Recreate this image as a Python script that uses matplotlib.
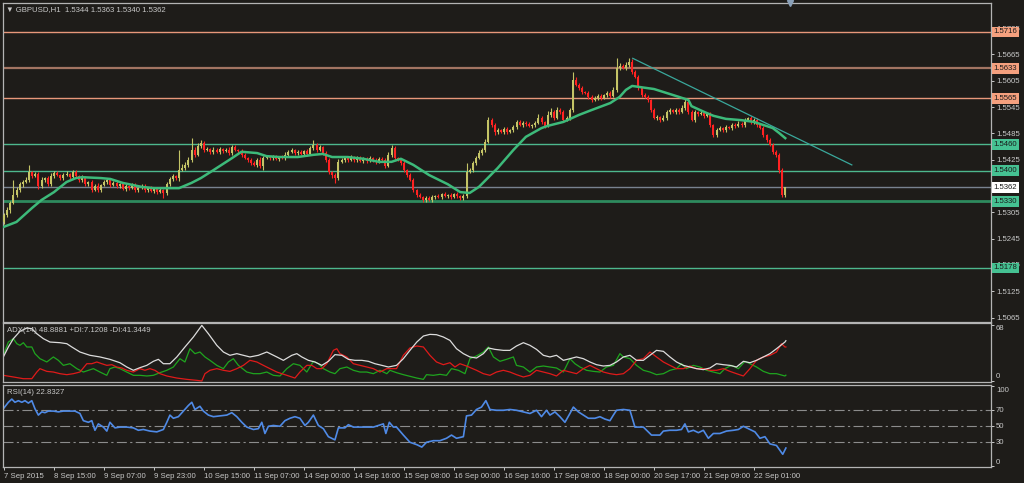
import numpy as np
import matplotlib
matplotlib.use("Agg")
import matplotlib.pyplot as plt
import matplotlib.transforms as mtransforms

# GBPUSD H1, 7 - 22 Sep 2015
# closes in pips above 1.5000, one per hourly bar
closes_pips = [
    299, 310, 326, 344, 356, 369, 374, 379, 397, 388, 392, 365, 379, 383, 369, 388, 395, 390, 383, 390,
    392, 385, 397, 388, 379, 383, 369, 374, 356, 365, 356, 367, 374, 379, 367, 372, 365, 369, 358, 365,
    360, 367, 356, 360, 365, 356, 360, 354, 358, 351, 356, 349, 369, 381, 388, 383, 401, 406, 413, 424,
    447, 436, 456, 463, 447, 449, 443, 447, 443, 449, 445, 447, 440, 454, 447, 445, 436, 429, 424, 417,
    413, 424, 411, 429, 431, 429, 431, 427, 431, 429, 436, 443, 447, 440, 443, 438, 445, 438, 452, 458,
    447, 454, 440, 424, 397, 390, 383, 420, 424, 429, 424, 431, 424, 429, 422, 427, 422, 429, 424, 420,
    427, 424, 411, 436, 452, 429, 424, 417, 401, 390, 379, 356, 344, 340, 333, 338, 333, 340, 342, 340,
    347, 342, 344, 340, 347, 342, 338, 342, 397, 401, 417, 429, 440, 447, 465, 515, 504, 488, 493, 488,
    495, 488, 493, 499, 511, 504, 509, 506, 502, 504, 509, 520, 511, 502, 527, 534, 520, 538, 534, 515,
    520, 538, 607, 595, 588, 579, 577, 568, 561, 566, 570, 566, 572, 577, 570, 584, 634, 638, 634, 641,
    648, 625, 613, 588, 572, 568, 561, 538, 520, 522, 515, 520, 534, 538, 534, 538, 534, 543, 556, 534,
    515, 534, 529, 531, 525, 529, 504, 481, 493, 497, 493, 499, 497, 504, 502, 506, 504, 515, 520, 511,
    515, 504, 497, 481, 470, 458, 443, 436, 401, 344, 362]
first_open_pips = 283

# wick lengths in pips beyond the body
wick_up = [
    4, 6, 5, 35, 6, 5, 4, 6, 16, 3, 5, 4, 6, 3, 5, 7, 4, 5, 3, 4,
    6, 3, 5, 4, 3, 6, 4, 3, 5, 4, 6, 3, 5, 4, 3, 5, 4, 3, 6, 4,
    3, 5, 4, 3, 5, 4, 3, 4, 5, 3, 4, 3, 6, 5, 4, 3, 45, 8, 6, 7,
    27, 6, 8, 7, 4, 5, 3, 6, 4, 5, 3, 4, 6, 5, 4, 3, 4, 5, 3, 4,
    5, 4, 6, 5, 4, 3, 5, 4, 3, 4, 6, 5, 4, 3, 5, 4, 3, 5, 4, 11,
    5, 4, 3, 4, 5, 3, 4, 6, 4, 3, 5, 4, 3, 4, 5, 3, 4, 5, 3, 4,
    5, 3, 4, 6, 7, 5, 3, 4, 5, 3, 4, 5, 3, 4, 3, 4, 3, 5, 3, 4,
    3, 4, 3, 5, 3, 4, 3, 4, 20, 6, 5, 4, 6, 5, 7, 7, 6, 4, 5, 3,
    5, 4, 3, 6, 5, 4, 3, 5, 4, 3, 5, 8, 4, 3, 9, 9, 5, 6, 4, 5,
    4, 5, 18, 6, 5, 4, 3, 5, 4, 3, 5, 4, 3, 5, 4, 6, 23, 8, 6, 7,
    9, 6, 5, 4, 3, 5, 4, 3, 5, 4, 3, 6, 5, 4, 3, 5, 4, 6, 9, 4,
    5, 4, 3, 5, 4, 3, 4, 3, 4, 5, 3, 4, 3, 5, 4, 6, 4, 5, 3, 4,
    5, 4, 3, 4, 3, 5, 4, 3, 5, 4, 1]
wick_dn = [
    5, 4, 6, 3, 5, 4, 6, 3, 4, 5, 3, 6, 4, 5, 3, 4, 5, 3, 4, 5,
    3, 4, 5, 3, 4, 6, 3, 5, 4, 3, 5, 4, 3, 5, 4, 3, 4, 5, 3, 4,
    5, 3, 4, 5, 3, 4, 5, 3, 4, 5, 3, 11, 4, 3, 5, 4, 6, 3, 5, 4,
    5, 4, 3, 5, 4, 3, 5, 4, 3, 5, 4, 3, 5, 4, 3, 5, 4, 3, 5, 4,
    3, 5, 4, 9, 3, 4, 5, 3, 4, 3, 5, 4, 3, 5, 4, 3, 5, 4, 3, 4,
    5, 3, 4, 5, 4, 6, 11, 4, 3, 5, 4, 3, 5, 4, 3, 4, 5, 3, 4, 5,
    3, 4, 5, 3, 4, 5, 3, 4, 5, 4, 3, 5, 4, 3, 5, 4, 3, 4, 5, 3,
    4, 3, 5, 4, 3, 4, 5, 6, 4, 3, 5, 4, 3, 5, 4, 3, 5, 6, 4, 3,
    5, 4, 3, 4, 5, 3, 4, 5, 3, 4, 5, 3, 4, 5, 3, 4, 5, 3, 4, 5,
    3, 4, 5, 3, 4, 5, 3, 4, 5, 3, 4, 5, 3, 4, 5, 3, 4, 5, 3, 4,
    5, 4, 3, 5, 4, 3, 4, 5, 3, 4, 5, 3, 4, 5, 3, 4, 5, 3, 4, 5,
    3, 4, 5, 3, 4, 3, 5, 5, 4, 3, 5, 4, 3, 4, 5, 3, 4, 5, 3, 4,
    5, 4, 3, 5, 4, 3, 4, 5, 6, 4, 4]

date_ticks = list(range(0, 241, 16))
date_labels = ['7 Sep 2015', '8 Sep 15:00', '9 Sep 07:00', '9 Sep 23:00', '10 Sep 15:00',
               '11 Sep 07:00', '14 Sep 00:00', '14 Sep 16:00', '15 Sep 08:00', '16 Sep 00:00',
               '16 Sep 16:00', '17 Sep 08:00', '18 Sep 00:00', '20 Sep 17:00', '21 Sep 09:00',
               '22 Sep 01:00']

# moving average (bar, price)
ma_pts = [(0, 1.5272), (4, 1.5283), (9, 1.5315), (12, 1.5333), (16, 1.5351), (20, 1.5374),
          (23, 1.5383), (25, 1.5385), (31, 1.5383), (34, 1.5381), (38, 1.5372), (44, 1.5363),
          (48, 1.5360), (52, 1.5360), (56, 1.5360), (60, 1.5372), (63, 1.5383), (67, 1.5401),
          (72, 1.5424), (76, 1.5443), (81, 1.5440), (84, 1.5433), (88, 1.5431), (94, 1.5431),
          (99, 1.5436), (102, 1.5438), (105, 1.5431), (110, 1.5431), (115, 1.5427), (120, 1.5420),
          (124, 1.5420), (127, 1.5427), (131, 1.5413), (136, 1.5390), (142, 1.5369), (146, 1.5351),
          (149, 1.5349), (152, 1.5363), (158, 1.5406), (163, 1.5447), (167, 1.5477), (172, 1.5497),
          (174, 1.5502), (179, 1.5511), (184, 1.5527), (188, 1.5538), (194, 1.5554), (197, 1.5568),
          (199, 1.5584), (201, 1.5593), (203, 1.5591), (208, 1.5586), (212, 1.5577), (216, 1.5568),
          (219, 1.5561), (220, 1.5547), (224, 1.5534), (227, 1.5525), (231, 1.5518), (236, 1.5515),
          (240, 1.5511), (243, 1.5504), (246, 1.5497), (248, 1.5486), (250, 1.5474)]

trend_pts = [(201.2, 1.5656), (271.3, 1.5413)]

levels = [1.5716, 1.5633, 1.5565, 1.5460, 1.5400, 1.5362, 1.5330, 1.5178]
level_line_colors = ['#e8977a', '#a27462', '#e8977a', '#4db88e', '#4db88e', '#78828f', '#2e8a5e', '#4db88e']
level_box_colors = ['#f5a07e', '#f5a07e', '#f5a07e', '#45c192', '#45c192', '#ffffff', '#45c192', '#45c192']
level_widths = [1.0, 1.6, 1.0, 1.0, 1.0, 1.0, 2.0, 1.0]

price_ticks = [1.5065, 1.5125, 1.5185, 1.5245, 1.5305, 1.5365, 1.5425, 1.5485, 1.5545,
               1.5605, 1.5665, 1.5725]
hidden_ticks = [1.5365]   # covered by the bid label in the chart

adx_pts = [(-0.2, 29.2), (1.4, 41.3), (3.0, 51.4), (5.1, 60.3), (7.3, 64.3), (8.9, 63.5), (10.5, 57.4),
           (12.6, 51.4), (14.7, 47.3), (17.9, 46.5), (20.1, 45.3), (21.7, 41.3), (24.3, 35.2),
           (27.5, 31.2), (30.7, 29.2), (33.9, 26.3), (37.1, 22.2), (39.3, 17.0), (41.4, 13.0),
           (43.5, 16.2), (45.7, 19.0), (47.8, 23.9), (49.4, 26.3), (51.0, 21.0), (53.1, 21.0),
           (55.3, 29.2), (57.9, 41.3), (60.6, 53.4), (63.3, 67.5), (65.4, 57.4), (68.1, 43.3),
           (70.2, 35.2), (72.3, 31.2), (74.5, 33.2), (76.6, 31.2), (78.7, 29.2), (81.4, 31.2),
           (84.1, 35.2), (87.3, 29.2), (89.4, 25.1), (92.1, 31.2), (93.7, 33.2), (95.3, 29.2),
           (97.4, 25.1), (99.5, 23.1), (101.7, 19.0), (103.8, 23.9), (105.9, 32.0), (108.1, 31.2),
           (110.2, 26.3), (112.3, 25.1), (114.5, 25.1), (116.6, 23.9), (118.7, 21.0), (120.9, 19.0),
           (123.0, 17.0), (125.6, 19.0), (127.8, 27.1), (129.9, 37.2), (132.1, 47.3), (134.2, 54.6),
           (136.3, 56.6), (138.4, 56.2), (140.6, 53.4), (142.7, 49.3), (144.8, 39.2), (147.0, 33.2),
           (149.1, 29.2), (151.2, 27.9), (153.4, 33.2), (155.0, 40.1), (157.1, 38.4), (159.8, 37.2),
           (161.9, 37.2), (164.0, 42.5), (166.2, 46.5), (168.3, 43.3), (170.4, 38.4), (172.6, 31.2),
           (174.7, 29.2), (176.8, 31.2), (179.0, 25.1), (181.1, 27.1), (183.2, 29.2), (185.4, 27.1),
           (187.5, 23.1), (189.6, 19.8), (191.8, 18.2), (193.9, 19.0), (196.0, 23.1), (198.2, 29.2),
           (200.3, 31.2), (202.4, 25.1), (204.6, 25.1), (206.7, 31.2), (208.8, 37.2), (211.0, 36.0),
           (213.1, 29.2), (215.2, 23.1), (217.4, 19.0), (219.5, 17.0), (221.6, 15.0), (223.8, 13.8),
           (225.9, 15.8), (228.0, 21.0), (230.2, 19.8), (232.3, 19.0), (234.4, 17.0), (236.6, 23.9),
           (238.7, 22.2), (240.8, 25.1), (243.0, 29.2), (245.1, 33.2), (247.2, 39.2), (249.9, 47.3),
           (250.2, 48.9)]

plus_di_pts = [(-0.2, 31.2), (1.4, 47.3), (3.0, 51.4), (4.1, 45.3), (5.1, 43.3), (6.2, 46.5), (7.3, 41.3),
               (8.9, 41.3), (9.9, 33.2), (11.5, 27.1), (13.7, 23.1), (15.8, 29.2), (17.4, 25.1),
               (19.0, 19.0), (21.1, 21.0), (23.3, 15.0), (25.4, 10.9), (27.0, 13.0), (28.6, 15.0),
               (30.7, 10.9), (32.9, 6.9), (33.9, 15.0), (35.5, 17.0), (37.1, 15.0), (39.3, 10.9),
               (41.4, 6.9), (43.5, 6.9), (45.7, 6.1), (47.8, 6.9), (49.9, 10.1), (52.1, 13.0),
               (54.2, 17.0), (56.3, 27.1), (57.9, 23.1), (59.5, 39.2), (61.1, 33.2), (62.7, 35.2),
               (64.3, 29.2), (65.9, 25.1), (68.1, 19.0), (70.2, 15.0), (71.8, 23.1), (73.4, 27.1),
               (75.0, 19.0), (77.7, 10.9), (79.8, 8.9), (81.9, 8.9), (84.1, 10.9), (86.2, 6.9),
               (88.3, 6.1), (90.5, 15.0), (92.6, 21.0), (94.7, 19.0), (96.9, 10.9), (99.0, 23.9),
               (100.6, 21.0), (102.2, 15.0), (104.3, 10.9), (105.9, 8.9), (107.5, 15.0), (109.7, 17.0),
               (111.8, 13.0), (113.9, 10.9), (116.1, 10.9), (118.2, 8.9), (120.3, 13.0), (122.5, 8.9),
               (123.5, 13.0), (125.6, 10.1), (127.8, 7.7), (129.9, 5.7), (132.1, 3.6), (134.2, 2.0),
               (135.2, 7.7), (137.4, 6.9), (139.5, 8.1), (141.6, 6.9), (143.2, 15.0), (145.4, 13.0),
               (147.5, 8.9), (149.1, 27.1), (151.2, 30.4), (153.4, 35.2), (155.0, 41.3), (156.6, 29.2),
               (158.7, 23.9), (160.8, 26.3), (163.0, 29.2), (164.0, 19.0), (166.2, 17.0), (168.3, 10.9),
               (170.4, 17.0), (172.6, 18.2), (174.7, 17.0), (176.8, 15.8), (179.0, 10.9), (181.1, 27.1),
               (182.7, 21.0), (184.3, 17.0), (186.4, 13.0), (188.6, 11.7), (190.7, 10.9), (192.8, 17.0),
               (195.0, 19.0), (197.1, 33.2), (198.2, 29.2), (200.3, 27.1), (202.4, 19.0), (204.6, 13.0),
               (206.7, 10.9), (208.8, 7.7), (211.0, 8.9), (213.1, 13.0), (215.2, 15.0), (216.8, 21.0),
               (218.4, 15.0), (220.6, 19.0), (222.7, 17.0), (224.8, 13.0), (227.0, 10.9), (229.1, 8.9),
               (230.7, 15.0), (232.8, 19.0), (235.0, 15.0), (237.1, 23.9), (238.7, 21.0), (240.8, 17.0),
               (243.0, 11.7), (245.1, 8.9), (247.2, 8.9), (249.9, 6.1), (250.2, 7.1)]

minus_di_pts = [(-0.2, 6.9), (3.0, 4.9), (6.2, 2.8), (8.9, 2.8), (10.5, 10.9), (11.5, 15.0), (13.7, 11.7),
                (15.8, 10.9), (17.9, 8.9), (20.1, 7.7), (22.2, 8.9), (24.3, 10.9), (26.5, 21.0),
                (28.1, 21.0), (29.7, 23.1), (31.3, 21.0), (32.9, 19.0), (34.5, 19.8), (36.1, 17.0),
                (37.7, 15.8), (39.3, 13.0), (41.4, 10.9), (43.5, 15.0), (45.1, 13.0), (46.7, 15.0),
                (48.3, 13.0), (49.9, 8.9), (52.1, 6.1), (55.3, 3.6), (58.5, 2.0), (61.7, 0.8),
                (63.3, 0.0), (64.3, 8.9), (65.9, 13.0), (68.1, 15.0), (70.2, 13.0), (72.3, 11.7),
                (74.5, 15.0), (76.6, 19.0), (78.7, 25.1), (80.9, 23.1), (83.0, 19.0), (85.1, 15.0),
                (87.3, 10.9), (90.5, 6.9), (93.1, 3.6), (94.7, 10.9), (96.9, 19.0), (98.5, 19.0),
                (100.1, 15.0), (101.7, 15.0), (103.3, 21.0), (105.4, 37.2), (106.5, 39.2), (107.5, 33.2),
                (109.7, 29.2), (111.8, 21.0), (113.9, 19.0), (116.1, 17.0), (118.2, 15.0), (120.3, 10.9),
                (122.5, 15.0), (123.5, 15.0), (125.6, 15.0), (127.8, 31.2), (129.9, 40.1), (132.1, 42.5),
                (134.2, 41.3), (136.3, 31.2), (138.4, 23.1), (140.6, 19.8), (142.7, 22.2), (144.3, 17.0),
                (145.9, 21.0), (148.0, 18.2), (151.2, 13.0), (153.4, 8.9), (155.5, 6.9), (157.6, 10.9),
                (159.8, 13.0), (161.9, 10.9), (164.0, 7.7), (166.2, 4.9), (168.3, 6.9), (170.4, 13.0),
                (172.6, 10.9), (174.7, 8.9), (176.8, 6.1), (179.0, 13.0), (181.1, 10.9), (183.2, 8.9),
                (185.4, 15.0), (187.5, 19.0), (189.6, 15.0), (191.8, 10.9), (193.9, 8.9), (196.0, 7.7),
                (198.2, 8.9), (200.3, 15.0), (202.4, 25.1), (204.6, 27.1), (206.7, 35.2), (208.8, 29.2),
                (211.0, 23.1), (213.1, 19.0), (215.2, 15.0), (217.4, 15.0), (219.5, 18.2), (221.6, 15.0),
                (223.8, 15.0), (225.9, 13.0), (228.0, 13.0), (230.2, 15.0), (232.3, 11.7), (234.4, 8.9),
                (236.6, 6.1), (238.7, 15.0), (240.8, 25.1), (243.0, 29.2), (245.1, 31.2), (247.2, 35.2),
                (248.8, 45.3), (249.9, 41.3), (250.2, 41.3)]

rsi_pts = [(-0.2, 72), (1.4, 80), (2.5, 84), (3.5, 80), (4.6, 82), (5.7, 80), (6.7, 82), (7.8, 79),
           (8.9, 82), (9.9, 72), (11.0, 64), (12.1, 68), (13.1, 67), (14.2, 69), (15.8, 69), (17.4, 68),
           (19.0, 69), (21.1, 69), (22.7, 69), (24.3, 66), (25.4, 57), (27.0, 55), (28.1, 57), (29.1, 45),
           (30.2, 53), (31.8, 49), (32.9, 44), (33.9, 55), (35.5, 48), (37.1, 49), (39.3, 49), (41.4, 48),
           (43.0, 45), (44.6, 46), (46.7, 44), (48.9, 43), (51.0, 46), (52.1, 55), (53.1, 64), (54.2, 60),
           (55.8, 62), (57.4, 69), (59.0, 76), (60.1, 80), (61.1, 71), (62.7, 75), (63.8, 69), (65.4, 64),
           (67.0, 62), (69.1, 63), (71.3, 64), (72.9, 67), (74.5, 62), (76.1, 55), (77.7, 49), (79.8, 46),
           (81.4, 47), (82.5, 55), (83.5, 41), (84.6, 50), (86.2, 51), (88.3, 50), (89.9, 57), (91.5, 60),
           (93.1, 62), (94.7, 60), (96.3, 51), (97.4, 55), (99.0, 64), (100.6, 51), (102.2, 47), (103.8, 37),
           (105.9, 33), (107.0, 48), (109.1, 48), (110.2, 52), (111.8, 49), (113.9, 49), (116.1, 49),
           (118.2, 49), (119.8, 51), (121.4, 53), (122.2, 41), (123.3, 55), (124.6, 49), (125.6, 49),
           (127.8, 39), (129.9, 30), (132.1, 27), (133.7, 24), (135.2, 30), (137.4, 32), (139.5, 32),
           (141.6, 35), (143.2, 39), (144.8, 35), (147.0, 37), (148.0, 63), (149.6, 64), (151.2, 71),
           (152.8, 74), (154.2, 82), (155.5, 71), (157.6, 70), (159.8, 70), (161.9, 71), (164.0, 70),
           (166.2, 68), (168.3, 66), (170.4, 70), (172.0, 62), (173.6, 70), (174.7, 64), (176.3, 68),
           (177.9, 62), (179.5, 55), (181.1, 66), (182.2, 74), (183.8, 68), (185.4, 64), (187.0, 60),
           (189.1, 60), (190.7, 62), (192.3, 59), (193.9, 57), (195.0, 64), (196.0, 70), (198.2, 71),
           (200.3, 70), (201.9, 49), (204.6, 49), (207.2, 39), (209.9, 39), (211.0, 44), (213.1, 45),
           (215.2, 45), (216.8, 46), (217.9, 53), (219.0, 43), (220.6, 45), (222.2, 42), (223.8, 45),
           (225.4, 35), (227.0, 41), (229.1, 41), (231.2, 44), (233.4, 45), (235.0, 46), (236.6, 50),
           (238.2, 47), (240.3, 43), (241.9, 35), (243.5, 37), (245.1, 28), (247.2, 26), (249.2, 15),
           (250.2, 22.8)]
rsi_levels = [70, 50, 30]

# ---- styling ----
BG = '#1e1c19'
FG = '#c8c8c8'
BORDER = '#b4b4b4'
BULL = '#c4c466'
BEAR = '#ff2222'
plt.rcParams['font.family'] = ['Liberation Sans', 'DejaVu Sans']
FS = 5.6

W, H = 1024, 483
fig = plt.figure(figsize=(W / 100, H / 100), dpi=100, facecolor=BG)


def px_axes(x0, y0, x1, y1):
    return fig.add_axes([x0 / W, 1 - y1 / H, (x1 - x0) / W, (y1 - y0) / H])


ax = px_axes(3, 3, 991, 322)
adx_ax = px_axes(3, 323, 991, 382)
rsi_ax = px_axes(3, 385, 991, 467)

XMIN, XMAX = -0.32, 315.84
for a in (ax, adx_ax, rsi_ax):
    a.set_facecolor(BG)
    a.set_xlim(XMIN, XMAX)
    for s in a.spines.values():
        s.set_color(BORDER)
        s.set_linewidth(0.9)
    a.tick_params(colors=FG, labelsize=FS, length=2.5, width=0.7, pad=1.5)
    a.yaxis.tick_right()

# ---- candles ----
close = 1.5 + np.array(closes_pips) / 10000
opens = np.r_[1.5 + first_open_pips / 10000, close[:-1]]
high = np.maximum(opens, close) + np.array(wick_up) / 10000
low = np.minimum(opens, close) - np.array(wick_dn) / 10000
bars = np.arange(len(close))
cols = np.where(close >= opens, BULL, BEAR)

ax.vlines(bars, low, high, colors=cols, lw=0.8, zorder=3)
ax.bar(bars, np.maximum(np.abs(close - opens), 0.00007), bottom=np.minimum(opens, close),
       width=0.62, color=cols, lw=0, zorder=3)

# horizontal levels
trans = mtransforms.blended_transform_factory(ax.transAxes, ax.transData)
for lvl, lc, bc, lw in zip(levels, level_line_colors, level_box_colors, level_widths):
    ax.axhline(lvl, color=lc, lw=lw, zorder=2)
    ax.text(1.0025, lvl, f'{lvl:.4f}', transform=trans, va='center', ha='left', fontsize=FS,
            color='#1a1a1a', clip_on=False, zorder=5,
            bbox=dict(boxstyle='square,pad=0.25', fc=bc, ec='none'))

ma = np.array(ma_pts).T
ax.plot(ma[0], ma[1], color='#3dba7a', lw=1.8, zorder=4)
tr = np.array(trend_pts).T
ax.plot(tr[0], tr[1], color='#3aa89c', lw=0.9, zorder=4)

ax.set_ylim(1.50549, 1.57821)
ax.set_yticks(price_ticks)
ax.set_yticklabels(['' if t in hidden_ticks else f'{t:.4f}' for t in price_ticks])
ax.set_xticks([])
ax.plot([251.5], [1.57821], marker='v', ms=5, color='#8aa0b8', clip_on=False, zorder=6)

fig.text(6 / W, 1 - 9.5 / H, '\u25bc GBPUSD,H1  1.5344 1.5363 1.5340 1.5362', color=FG,
         fontsize=FS, va='center', ha='left')

# ---- ADX ----
a_ = np.array(adx_pts).T
p_ = np.array(plus_di_pts).T
m_ = np.array(minus_di_pts).T
adx_ax.plot(p_[0], p_[1], color='#1fa51f', lw=0.9)
adx_ax.plot(m_[0], m_[1], color='#e01a1a', lw=0.9)
adx_ax.plot(a_[0], a_[1], color='#dcdcdc', lw=0.9)
adx_ax.set_ylim(-1.2, 70.4)
adx_ax.set_yticks([0, 68])
adx_ax.set_yticklabels([])
adx_ax.set_xticks([])
fig.text(996 / W, 1 - 328 / H, '68', color=FG, fontsize=FS, va='center')
fig.text(996 / W, 1 - 377 / H, '0', color=FG, fontsize=FS, va='center')
fig.text(7 / W, 1 - 331 / H, 'ADX(14) 48.8881 +DI:7.1208 -DI:41.3449', color=FG,
         fontsize=FS, va='center', ha='left')

# ---- RSI ----
r_ = np.array(rsi_pts).T
for lv in rsi_levels:
    rsi_ax.axhline(lv, color='#8c8c8c', lw=0.8, ls=(0, (9, 3, 2, 3)))
rsi_ax.plot(r_[0], r_[1], color='#4f8ae6', lw=1.2)
rsi_ax.set_ylim(-0.9, 101.6)
rsi_ax.set_yticks([0, 30, 50, 70, 100])
rsi_ax.set_yticklabels([])
for lab, ypx in zip(['100', '70', '50', '30', '0'], [390, 410, 426, 442, 462]):
    fig.text(996 / W, 1 - ypx / H, lab, color=FG, fontsize=FS, va='center')
fig.text(7 / W, 1 - 392 / H, 'RSI(14) 22.8327', color=FG, fontsize=FS, va='center', ha='left')

rsi_ax.set_xticks(date_ticks)
rsi_ax.set_xticklabels(date_labels, ha='left')
rsi_ax.tick_params(axis='x', pad=1.5)

fig.savefig('out.png', dpi=100, facecolor=BG)
